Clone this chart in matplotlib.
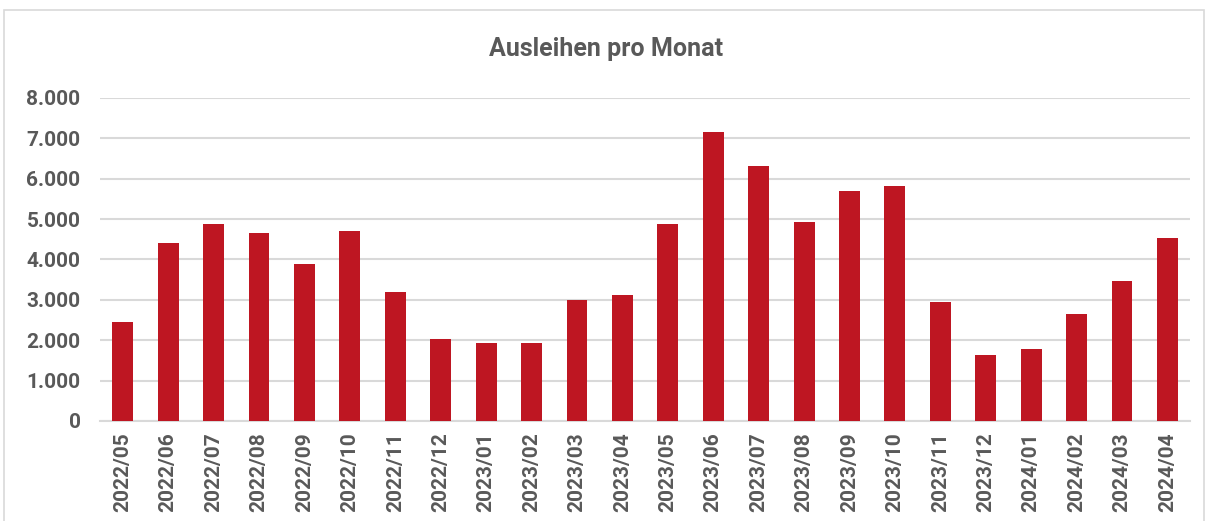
import matplotlib.pyplot as plt
from matplotlib.patches import Rectangle
from matplotlib.ticker import FuncFormatter

months = ['2022/05', '2022/06', '2022/07', '2022/08', '2022/09', '2022/10',
          '2022/11', '2022/12', '2023/01', '2023/02', '2023/03', '2023/04',
          '2023/05', '2023/06', '2023/07', '2023/08', '2023/09', '2023/10',
          '2023/11', '2023/12', '2024/01', '2024/02', '2024/03', '2024/04']
ausleihen = [2440, 4406, 4870, 4662, 3886, 4696, 3191, 2018, 1934, 1919,
             2985, 3124, 4885, 7151, 6315, 4919, 5696, 5812, 2951, 1646,
             1778, 2646, 3456, 4522]

plt.rcParams['font.family'] = ['Roboto', 'DejaVu Sans']
text_col = '#595959'

fig = plt.figure(figsize=(12.12, 5.21), dpi=100)
ax = fig.add_axes([0.0825, 0.192, 0.8995, 0.62])

x = range(len(months))
ax.bar(x, ausleihen, width=0.46, color='#BE1622', zorder=3)

ax.set_ylim(0, 8000)
ax.set_xlim(-0.5, len(months) - 0.5)
ax.set_yticks(range(0, 8001, 1000))
ax.yaxis.set_major_formatter(FuncFormatter(lambda v, p: f'{int(v):,}'.replace(',', '.')))
ax.set_xticks(list(x))
ax.set_xticklabels(months, rotation=90)

ax.grid(axis='y', color='#d9d9d9', linewidth=1.5, zorder=0)
for s in ['top', 'right', 'left']:
    ax.spines[s].set_visible(False)
ax.spines['bottom'].set_color('#d9d9d9')
ax.spines['bottom'].set_linewidth(1.5)
ax.tick_params(axis='both', length=0, labelsize=15, labelcolor=text_col)
ax.tick_params(axis='y', pad=14)
ax.tick_params(axis='x', pad=8)
for lbl in ax.get_xticklabels() + ax.get_yticklabels():
    lbl.set_fontweight('bold')

fig.text(0.5, 0.905, 'Ausleihen pro Monat', ha='center', va='center',
         fontsize=18, color=text_col, fontweight='bold')

# chart frame
fig.patches.append(Rectangle((0.003, -0.01), 0.99, 0.99, transform=fig.transFigure,
                             fill=False, edgecolor='#d9d9d9', linewidth=1.2))

fig.savefig('out.png', dpi=100)
